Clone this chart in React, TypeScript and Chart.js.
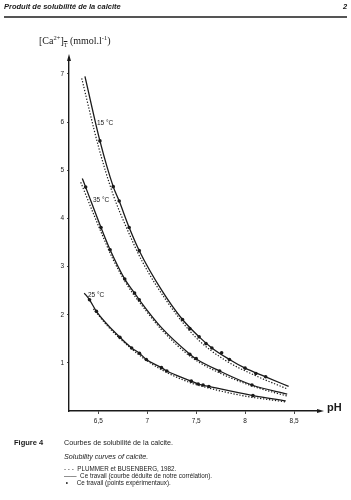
import React, { useEffect, useRef } from "react";
import { Chart, registerables } from "chart.js";

Chart.register(...registerables);

const xTicks = [6.5, 7, 7.5, 8, 8.5];
const yTicks = [1, 2, 3, 4, 5, 6, 7];

// Solid curves ("Ce travail", courbe déduite de notre corrélation)
const solid15: [number, number][] = [
  [6.363, 6.95], [6.516, 5.61], [6.652, 4.66], [6.713, 4.36], [6.815, 3.81], [6.918, 3.33],
  [7.15, 2.5], [7.36, 1.9], [7.53, 1.54], [7.66, 1.31], [7.84, 1.07], [8.0, 0.89], [8.21, 0.71], [8.445, 0.51],
];
const solid35: [number, number][] = [
  [6.336, 4.83], [6.37, 4.65], [6.527, 3.81], [6.62, 3.35], [6.77, 2.74], [6.87, 2.45], [6.918, 2.31],
  [7.15, 1.72], [7.435, 1.18], [7.5, 1.08], [7.74, 0.83], [8.07, 0.54], [8.43, 0.35],
];
const solid25: [number, number][] = [
  [6.356, 2.45], [6.41, 2.31], [6.48, 2.07], [6.72, 1.53], [6.84, 1.31], [6.92, 1.2], [6.99, 1.07],
  [7.145, 0.9], [7.2, 0.83], [7.45, 0.62], [7.52, 0.56], [7.63, 0.51], [8.08, 0.32], [8.415, 0.21],
];

// Dotted curves (PLUMMER et BUSENBERG, 1982)
const plummer15: [number, number][] = [
  [6.33, 6.91], [6.5, 5.5], [6.65, 4.5], [6.8, 3.75], [6.95, 3.1], [7.2, 2.28], [7.5, 1.52],
  [7.8, 1.05], [8.1, 0.74], [8.43, 0.46],
];
const plummer35: [number, number][] = [
  [6.32, 4.75], [6.5, 3.85], [6.65, 3.15], [6.8, 2.6], [6.95, 2.18], [7.15, 1.68], [7.45, 1.12],
  [7.75, 0.78], [8.1, 0.5], [8.43, 0.31],
];
const plummer25: [number, number][] = [
  [6.45, 2.12], [6.6, 1.75], [6.8, 1.36], [7.0, 1.04], [7.2, 0.8], [7.45, 0.58], [7.7, 0.44],
  [8.0, 0.31], [8.41, 0.19],
];

// Experimental points (Ce travail, points expérimentaux)
const points15: [number, number][] = [
  [6.516, 5.61], [6.652, 4.66], [6.713, 4.36], [6.815, 3.81], [6.918, 3.33], [7.36, 1.9], [7.435, 1.71],
  [7.53, 1.54], [7.6, 1.4], [7.66, 1.31], [7.76, 1.21], [7.84, 1.07], [8.0, 0.89], [8.11, 0.78], [8.21, 0.71],
];
const points35: [number, number][] = [
  [6.37, 4.65], [6.527, 3.81], [6.62, 3.35], [6.77, 2.74], [6.87, 2.45], [6.918, 2.31], [7.435, 1.18],
  [7.5, 1.09], [7.74, 0.83], [8.07, 0.54],
];
const points25: [number, number][] = [
  [6.41, 2.31], [6.48, 2.07], [6.72, 1.53], [6.84, 1.31], [6.92, 1.2], [6.99, 1.07], [7.145, 0.9],
  [7.2, 0.83], [7.45, 0.62], [7.52, 0.56], [7.57, 0.54], [7.63, 0.51], [8.08, 0.32],
];

const curveLabels: { text: string; x: number; y: number }[] = [
  { text: "15 °C", x: 6.486, y: 5.98 },
  { text: "35 °C", x: 6.445, y: 4.38 },
  { text: "25 °C", x: 6.394, y: 2.41 },
];

const toXY = (arr: [number, number][]) => arr.map(([x, y]) => ({ x, y }));
const fmt = (v: number) => String(v).replace(".", ",");

const INK = "#1a1a1a";

export default function App() {
  const ref = useRef<HTMLCanvasElement>(null);

  useEffect(() => {
    if (!ref.current) return;
    const lineDs = (data: [number, number][], dotted: boolean) => ({
      data: toXY(data),
      showLine: true,
      borderColor: INK,
      borderWidth: dotted ? 1.2 : 1.3,
      borderDash: dotted ? [1.3, 1.7] : [],
      pointRadius: 0,
      cubicInterpolationMode: "monotone" as const,
      fill: false,
    });
    const ptDs = (data: [number, number][]) => ({
      data: toXY(data),
      showLine: false,
      pointRadius: 1.8,
      pointBackgroundColor: INK,
      pointBorderWidth: 0,
    });

    const overlay = {
      id: "overlay",
      afterDatasetsDraw(chart: any) {
        const { ctx, chartArea, scales } = chart;
        ctx.save();
        ctx.fillStyle = INK;
        ctx.strokeStyle = INK;
        ctx.beginPath();
        ctx.moveTo(chartArea.left, chartArea.top - 6);
        ctx.lineTo(chartArea.left - 2, chartArea.top + 1);
        ctx.lineTo(chartArea.left + 2, chartArea.top + 1);
        ctx.closePath();
        ctx.fill();
        ctx.beginPath();
        ctx.moveTo(chartArea.right + 6, chartArea.bottom);
        ctx.lineTo(chartArea.right - 1, chartArea.bottom - 2);
        ctx.lineTo(chartArea.right - 1, chartArea.bottom + 2);
        ctx.closePath();
        ctx.fill();
        ctx.font = "6.5px 'Liberation Sans', Arial, sans-serif";
        ctx.textBaseline = "middle";
        ctx.textAlign = "left";
        for (const l of curveLabels) {
          ctx.fillText(l.text, scales.x.getPixelForValue(l.x), scales.y.getPixelForValue(l.y));
        }
        ctx.restore();
      },
    };

    const chart = new Chart(ref.current, {
      type: "scatter",
      data: {
        datasets: [
          lineDs(plummer15, true),
          lineDs(plummer35, true),
          lineDs(plummer25, true),
          lineDs(solid15, false),
          lineDs(solid35, false),
          lineDs(solid25, false),
          ptDs(points15),
          ptDs(points35),
          ptDs(points25),
        ] as any,
      },
      options: {
        animation: false,
        responsive: false,
        layout: { padding: { top: 60, right: 33, left: 0, bottom: 0 } },
        plugins: { legend: { display: false }, tooltip: { enabled: false } },
        scales: {
          x: {
            type: "linear",
            min: 6.2,
            max: 8.745,
            afterFit: (s: any) => { s.height = 89; },
            afterBuildTicks: (s: any) => { s.ticks = xTicks.map((v) => ({ value: v })); },
            border: { display: true, color: INK, width: 1.4 },
            grid: { display: true, drawOnChartArea: false, drawTicks: true, tickLength: 3, color: INK, lineWidth: 0.8 },
            ticks: {
              color: INK,
              padding: 3,
              font: { size: 6.5, family: "'Liberation Sans', Arial, sans-serif" },
              callback: (v: any) => fmt(Number(v)),
              maxRotation: 0,
            },
          },
          y: {
            type: "linear",
            min: 0,
            max: 7.29,
            afterFit: (s: any) => { s.width = 69; },
            afterBuildTicks: (s: any) => { s.ticks = yTicks.map((v) => ({ value: v })); },
            border: { display: true, color: INK, width: 1.4 },
            grid: { display: true, drawOnChartArea: false, drawTicks: true, tickLength: 2, color: INK, lineWidth: 0.8 },
            ticks: {
              color: INK,
              padding: 3,
              font: { size: 6.5, family: "'Liberation Sans', Arial, sans-serif" },
              callback: (v: any) => fmt(Number(v)),
            },
          },
        },
      },
      plugins: [overlay],
    });
    return () => chart.destroy();
  }, []);

  const sans = "'Liberation Sans', Arial, sans-serif";
  const abs = (left: number, top: number, extra: React.CSSProperties = {}): React.CSSProperties => ({
    position: "absolute",
    left,
    top,
    whiteSpace: "nowrap",
    lineHeight: 1,
    color: INK,
    ...extra,
  });

  return (
    <div style={{ position: "fixed", left: 0, top: 0, width: 351, height: 500, background: "#fff", overflow: "hidden" }}>
      <canvas ref={ref} width={351} height={500} style={{ position: "absolute", left: 0, top: 0 }} />
      <div style={abs(4, 3, { fontFamily: sans, fontSize: 7.5, fontStyle: "italic", fontWeight: "bold" })}>
        Produit de solubilité de la calcite
      </div>
      <div style={abs(343, 3, { fontFamily: sans, fontSize: 7.5, fontStyle: "italic", fontWeight: "bold" })}>2</div>
      <div style={{ position: "absolute", left: 4, top: 16, width: 343, height: 1.5, background: "#555" }} />
      <div style={abs(39, 35, { fontFamily: "'Liberation Serif', serif", fontSize: 10 })}>
        [Ca<sup style={{ fontSize: 6.5 }}>2+</sup>]<sub style={{ fontSize: 6, textDecoration: "overline" }}>T</sub> (mmol.l<sup style={{ fontSize: 6.5 }}>-1</sup>)
      </div>
      <div style={abs(327, 402, { fontFamily: sans, fontSize: 11, fontWeight: "bold" })}>pH</div>
      <div style={abs(14, 439, { fontFamily: sans, fontSize: 7.5, fontWeight: "bold" })}>Figure 4</div>
      <div style={abs(64, 439, { fontFamily: sans, fontSize: 7.2 })}>Courbes de solubilité de la calcite.</div>
      <div style={abs(64, 453, { fontFamily: sans, fontSize: 7.2, fontStyle: "italic" })}>Solubility curves of calcite.</div>
      <div style={abs(64, 466, { fontFamily: sans, fontSize: 6.3 })}>- - -&nbsp; PLUMMER et BUSENBERG, 1982.</div>
      <div style={abs(64, 473, { fontFamily: sans, fontSize: 6.3 })}>——&nbsp; Ce travail (courbe déduite de notre corrélation).</div>
      <div style={abs(64, 480, { fontFamily: sans, fontSize: 6.3 })}>&nbsp;•&nbsp;&nbsp;&nbsp;&nbsp; Ce travail (points expérimentaux).</div>
    </div>
  );
}
